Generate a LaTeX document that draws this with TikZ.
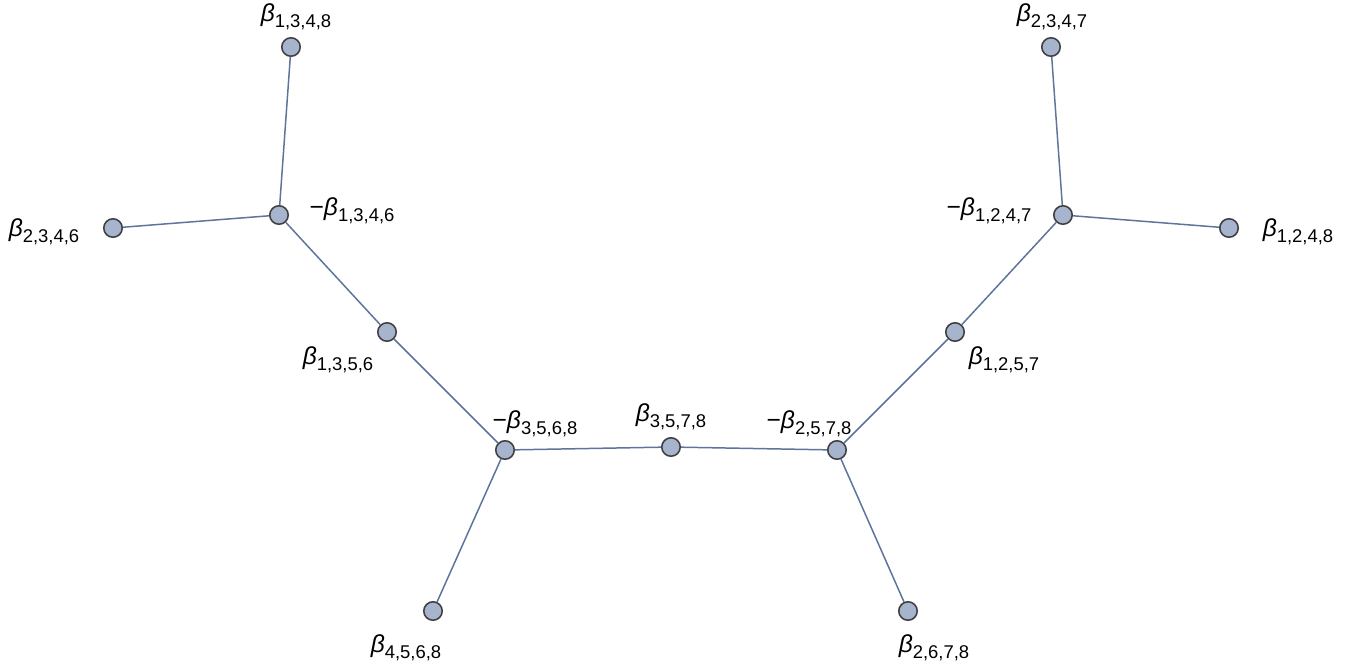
\documentclass[tikz,border=0pt]{standalone}
\usepackage{fontspec}
\setmainfont{Liberation Sans}
\newcommand{\bt}[2][]{#1{\itshape β}\raisebox{-3.2pt}{\fontsize{10.5}{12}\selectfont #2}}

\begin{document}
\begin{tikzpicture}[x=0.02cm, y=-0.02cm,
  vert/.style={circle, draw=black!75, fill=vfill, line width=0.9pt, minimum size=10.5pt, inner sep=0pt},
  lab/.style={font=\fontsize{14}{16}\selectfont, inner sep=0pt},
  edge/.style={draw=efill, line width=0.85pt}]
  \definecolor{vfill}{RGB}{166,180,206}
  \definecolor{efill}{RGB}{94,116,156}
  \useasboundingbox (0,0) rectangle (1358,664);
  % vertices
  \node(A)[vert] at (291,47) {};
  \node(B)[vert] at (279,215) {};
  \node(C)[vert] at (113,228) {};
  \node(D)[vert] at (387,332) {};
  \node(E)[vert] at (505,450) {};
  \node(F)[vert] at (433,611) {};
  \node(G)[vert] at (671,447) {};
  \node(H)[vert] at (837,450) {};
  \node(I)[vert] at (908,611) {};
  \node(J)[vert] at (955,332) {};
  \node(K)[vert] at (1063,215) {};
  \node(L)[vert] at (1229,228) {};
  \node(M)[vert] at (1051,47) {};
  % labels
  \node(lA)[lab] at (296,17) {\bt{1,3,4,8}};
  \node(lB)[lab] at (352,211) {\bt[−]{1,3,4,6}};
  \node(lC)[lab] at (44,232) {\bt{2,3,4,6}};
  \node(lD)[lab] at (338,360) {\bt{1,3,5,6}};
  \node(lE)[lab] at (535,424) {\bt[−]{3,5,6,8}};
  \node(lF)[lab] at (406,648) {\bt{4,5,6,8}};
  \node(lG)[lab] at (671,417) {\bt{3,5,7,8}};
  \node(lH)[lab] at (809,424) {\bt[−]{2,5,7,8}};
  \node(lI)[lab] at (934,648) {\bt{2,6,7,8}};
  \node(lJ)[lab] at (1004,360) {\bt{1,2,5,7}};
  \node(lK)[lab] at (989,211) {\bt[−]{1,2,4,7}};
  \node(lL)[lab] at (1298,232) {\bt{1,2,4,8}};
  \node(lM)[lab] at (1052,17) {\bt{2,3,4,7}};
  % edges
  \draw[edge] (A) -- (B);
  \draw[edge] (C) -- (B);
  \draw[edge] (B) -- (D);
  \draw[edge] (D) -- (E);
  \draw[edge] (E) -- (F);
  \draw[edge] (E) -- (G);
  \draw[edge] (G) -- (H);
  \draw[edge] (H) -- (I);
  \draw[edge] (H) -- (J);
  \draw[edge] (J) -- (K);
  \draw[edge] (K) -- (L);
  \draw[edge] (K) -- (M);
\end{tikzpicture}
\end{document}
